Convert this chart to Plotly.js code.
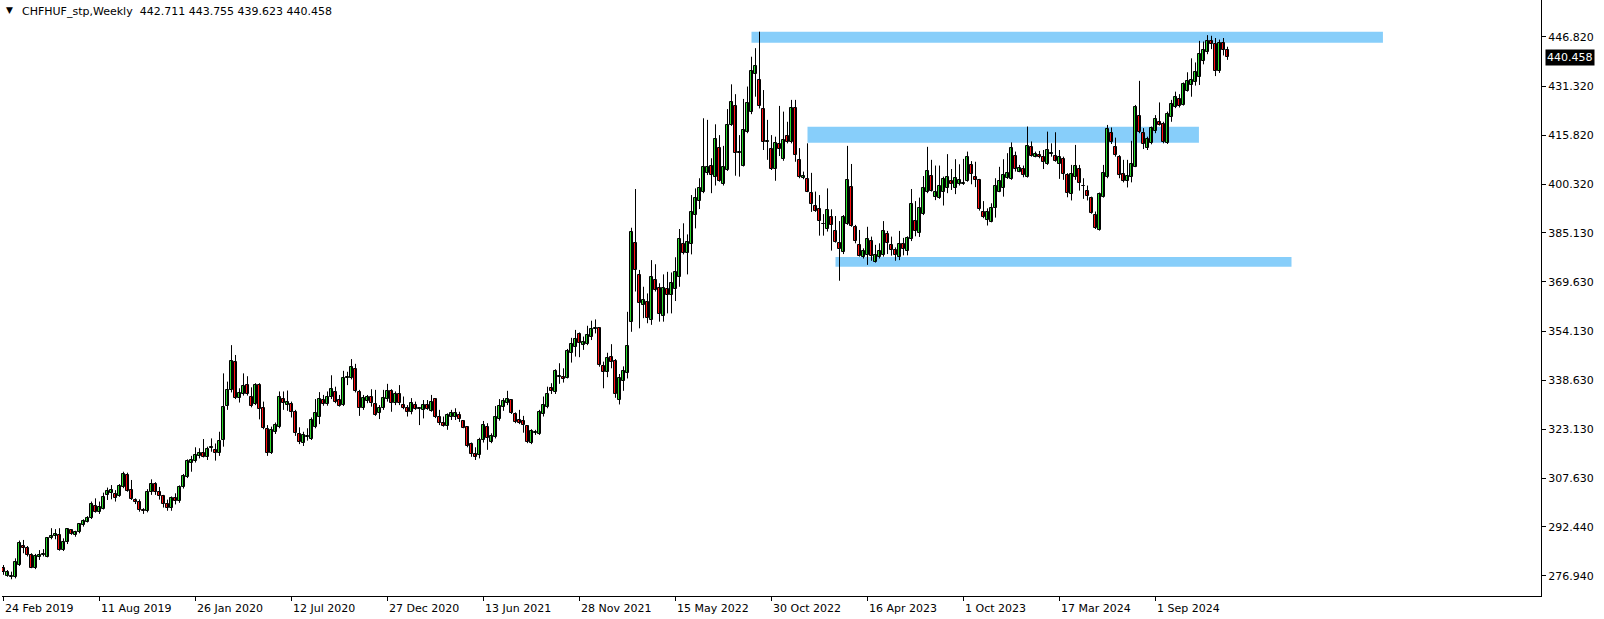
<!DOCTYPE html>
<html>
<head>
<meta charset="utf-8">
<script src="https://cdn.plot.ly/plotly-3.0.1.min.js"></script>
<style>html,body{margin:0;padding:0;background:#fff;}#chart{width:1604px;height:619px;}</style>
</head>
<body>
<div id="chart"></div>
<script>
// ---- DATA (weekly candles, first week starting 24 Feb 2019) ----
const symbol = "CHFHUF_stp,Weekly";
const firstWeek = "2019-02-24";

const open = [
279.3,277.0,276.5,276.5,280.5,286.4,285.9,283.6,279.6,282.8,
283.6,283.0,288.8,289.4,289.9,285.1,287.6,291.4,290.0,290.7,
293.0,294.0,295.2,299.0,297.0,298.2,302.6,303.0,302.8,302.0,
305.0,308.9,304.0,301.0,300.3,297.7,297.5,303.4,306.0,303.5,
302.0,299.5,298.5,301.5,300.5,305.0,308.0,312.5,313.2,314.9,
315.6,314.5,317.2,316.6,315.8,319.8,330.5,335.5,344.3,332.9,
334.2,337.0,333.5,331.1,337.1,329.8,323.2,315.8,322.4,323.9,
332.7,330.8,331.1,328.7,321.6,318.8,320.8,320.2,324.0,327.0,
332.4,331.0,333.3,334.9,332.3,330.8,339.2,339.2,342.1,334.8,
329.8,332.1,333.3,331.1,328.2,330.0,332.7,335.3,331.4,334.3,
330.8,330.0,328.5,330.8,329.5,329.3,330.8,329.0,332.7,327.0,
325.1,324.3,327.0,327.2,327.7,325.8,323.8,318.5,315.5,315.0,
319.8,323.8,319.3,320.7,326.3,330.1,331.6,332.4,328.0,326.1,
325.9,324.2,318.8,322.0,321.7,328.0,330.1,336.1,334.8,339.7,
339.6,339.4,347.1,349.0,353.2,349.9,350.0,352.4,354.8,355.0,
343.1,341.1,345.9,344.7,332.5,338.5,341.0,356.9,381.8,371.8,
362.3,363.2,357.5,370.1,367.6,359.0,367.3,365.5,367.3,371.1,
381.6,378.7,381.6,390.7,395.1,397.9,404.0,406.3,402.6,411.7,
400.4,404.9,419.1,425.1,410.3,406.3,416.8,423.1,435.1,433.3,
424.1,413.6,411.4,405.3,413.1,408.5,415.6,413.6,424.3,408.1,
402.3,402.0,397.6,393.6,392.6,388.0,386.2,390.2,385.7,382.0,
379.0,388.0,399.5,386.9,381.3,377.6,378.1,382.5,376.0,377.4,
378.1,384.7,381.3,379.7,377.6,381.5,379.5,383.0,388.8,384.9,
390.9,397.9,403.0,396.3,396.0,397.9,399.1,401.5,399.1,400.4,
400.6,401.5,406.5,402.6,401.7,391.6,389.2,388.6,393.0,398.1,
399.3,402.3,402.1,409.3,404.4,405.2,402.7,412.1,409.1,409.6,
408.9,406.7,410.1,409.3,406.8,408.3,403.4,397.3,402.6,405.2,
399.8,398.3,396.0,390.8,386.0,396.5,402.6,416.7,412.1,409.1,
403.7,401.5,402.8,406.0,422.0,416.5,411.8,413.3,417.2,420.0,
419.3,413.3,421.5,424.7,427.3,425.4,429.9,431.7,432.5,434.1,
439.4,442.2,445.6,444.5,436.0,445.0,442.711];

const high = [
280.4,278.8,278.3,282.5,288.1,288.3,286.4,284.1,283.9,285.1,
285.4,289.1,292.0,291.7,292.0,288.8,292.0,291.7,291.2,293.5,
294.8,295.8,300.4,301.4,300.4,303.2,304.8,305.6,304.0,305.9,
309.8,309.5,307.2,301.4,301.1,298.3,304.3,307.4,306.5,305.0,
302.5,301.0,302.0,303.0,305.5,309.1,313.7,314.8,317.5,317.2,
320.1,317.7,320.3,318.7,322.4,340.8,338.2,349.7,346.6,336.1,
340.8,339.9,336.4,337.7,337.7,331.9,324.5,324.0,325.3,335.1,
335.1,335.4,331.9,329.3,323.8,322.4,323.5,326.9,332.7,334.9,
334.0,335.1,340.2,336.6,334.0,341.6,341.3,345.3,343.8,335.6,
334.0,334.0,335.8,335.6,330.8,335.6,337.5,335.8,335.1,337.1,
333.5,330.8,333.0,331.9,330.1,332.4,332.4,334.0,333.0,329.3,
327.2,328.2,329.3,329.8,328.7,326.1,324.2,319.0,317.5,320.5,
325.8,325.1,321.9,330.5,332.7,333.0,335.3,332.7,328.5,329.3,
327.4,324.5,323.2,323.0,329.3,333.5,336.6,337.7,342.1,344.0,
342.4,348.5,352.0,354.5,353.7,352.4,355.8,357.4,357.8,355.2,
344.5,347.3,350.0,345.3,340.6,343.0,360.2,386.7,398.9,373.4,
368.1,366.0,376.5,375.2,369.2,372.0,372.8,372.6,377.4,386.3,
388.1,384.6,397.0,399.1,402.3,421.2,420.7,408.6,419.3,415.9,
412.5,424.1,431.9,428.8,415.9,427.3,431.2,440.6,443.3,448.5,
430.1,420.7,415.9,415.4,425.1,423.3,420.1,427.0,427.0,411.8,
404.4,413.3,404.0,398.1,397.0,391.0,399.1,392.5,390.4,388.8,
390.7,412.5,406.8,387.6,386.0,380.2,387.0,383.9,381.3,381.8,
388.8,385.7,383.9,380.5,385.7,383.5,384.0,398.9,395.1,396.2,
403.0,412.2,408.1,406.3,406.3,402.8,409.9,405.2,408.3,406.7,
408.4,410.7,407.7,407.5,402.1,395.1,392.8,394.4,402.3,405.9,
408.3,410.2,413.6,410.7,406.5,406.3,418.6,413.9,410.7,410.9,
411.2,417.0,413.3,416.8,411.2,409.1,403.9,406.5,412.8,406.5,
402.3,400.0,396.5,391.8,397.8,406.5,419.1,418.3,415.1,409.6,
408.1,408.1,414.1,425.4,433.0,418.1,415.4,418.6,422.2,426.2,
420.1,423.3,427.0,429.6,428.8,432.5,435.7,440.1,438.8,445.6,
445.4,447.4,447.2,446.5,446.0,446.5,443.755];

const low = [
277.3,276.7,275.9,276.2,280.1,284.1,283.1,279.4,279.1,282.0,
283.1,282.8,288.5,288.5,284.9,284.8,287.0,289.9,289.3,290.4,
292.5,293.8,294.9,296.9,296.5,297.9,300.9,301.1,300.4,301.9,
304.6,303.5,300.9,299.6,297.2,296.5,297.0,302.5,302.5,301.0,
298.5,297.5,297.5,299.5,300.0,304.5,307.8,309.8,312.7,314.0,
314.3,313.5,316.1,313.3,314.8,317.7,329.3,334.8,332.7,331.6,
333.8,333.8,330.1,330.8,326.3,323.2,314.8,315.4,321.7,323.5,
329.3,329.0,326.9,321.1,318.5,317.9,319.6,319.8,323.5,324.8,
330.6,330.6,332.7,331.4,330.3,330.5,337.1,338.9,334.8,327.4,
329.3,331.4,330.3,327.4,326.4,329.3,331.9,328.7,330.8,330.8,
329.5,327.2,327.9,329.3,324.5,326.6,329.3,328.7,326.7,324.5,
324.0,323.0,326.1,326.1,325.5,323.5,317.5,314.5,313.5,314.0,
319.0,316.7,318.8,320.3,325.9,329.0,330.8,328.0,325.1,324.8,
322.1,318.8,318.5,321.4,321.4,327.2,329.8,334.3,334.3,337.5,
337.9,339.2,344.2,346.1,345.9,348.2,349.7,351.3,353.4,342.9,
336.1,339.6,342.4,333.1,331.0,335.3,339.2,353.9,366.6,355.0,
358.2,356.6,356.1,366.6,357.1,357.1,359.7,359.7,363.6,368.1,
378.3,372.0,378.3,386.5,392.6,397.6,403.3,397.6,400.0,401.2,
400.0,404.6,418.8,403.1,402.8,406.0,416.5,422.5,428.0,424.3,
411.2,408.1,404.9,401.5,409.3,407.8,413.3,413.3,407.5,402.3,
402.0,397.9,391.7,391.7,384.2,384.2,385.5,379.5,382.0,370.0,
378.4,387.6,387.0,381.8,377.6,377.0,375.0,376.3,375.7,377.0,
377.6,378.4,377.9,376.3,376.5,378.0,378.0,382.5,384.0,383.8,
390.7,397.6,398.1,395.4,395.8,393.7,397.6,398.6,397.3,400.0,
400.2,401.2,400.4,399.5,392.1,389.7,387.4,388.4,389.9,397.9,
396.5,402.1,401.8,404.4,404.2,402.6,402.5,409.1,408.9,408.6,
405.2,406.5,409.1,407.5,402.1,401.8,396.3,395.3,401.8,398.4,
395.8,395.3,391.1,386.3,385.8,396.2,402.3,413.1,409.1,402.3,
401.0,399.4,401.0,405.8,416.5,411.5,411.2,413.0,416.5,418.9,
413.3,413.1,420.1,424.4,424.6,425.2,429.6,428.0,431.5,431.7,
438.2,441.4,443.0,434.5,435.5,441.0,439.623];

const close = [
278.1,278.1,276.9,281.5,287.3,285.9,283.5,279.6,283.3,283.6,
283.9,288.8,289.6,290.1,285.1,287.7,291.7,290.2,290.8,293.2,
294.2,295.2,299.6,297.2,298.6,301.7,303.7,304.0,301.5,305.3,
309.1,303.8,301.3,300.2,297.8,297.5,303.4,306.0,303.5,302.0,
299.5,298.5,301.5,300.5,305.0,308.3,313.2,313.5,315.1,315.6,
314.5,316.9,317.7,315.6,319.5,330.1,335.6,344.7,332.9,334.5,
336.8,334.2,330.5,337.1,329.5,323.7,315.8,323.0,324.5,333.3,
331.6,331.8,328.7,321.9,319.1,321.3,321.0,326.0,328.2,332.7,
331.2,333.3,335.8,331.7,330.5,339.2,339.6,342.7,335.1,329.8,
333.0,333.3,331.4,327.7,329.8,333.0,335.3,331.6,334.3,331.4,
329.8,328.7,331.4,329.5,329.8,330.8,329.5,331.7,327.0,325.1,
324.3,327.7,328.2,328.4,326.4,323.7,318.0,315.5,314.5,319.8,
324.5,320.3,321.2,327.0,330.5,332.1,332.7,328.4,325.5,325.3,
324.5,319.1,322.7,322.3,328.5,330.8,334.3,335.4,341.6,339.9,
339.0,347.8,350.0,351.5,350.3,350.6,352.9,354.7,355.1,343.3,
341.1,345.5,344.3,334.2,339.2,341.6,349.4,385.5,373.4,363.1,
363.8,358.2,371.3,367.1,359.4,367.6,365.5,369.2,372.6,383.1,
378.7,382.1,391.6,396.0,399.1,405.9,405.7,403.3,414.6,401.5,
405.7,419.1,426.4,410.4,410.6,417.4,425.9,436.2,437.7,425.2,
413.6,414.0,405.3,413.3,411.5,414.4,413.6,424.3,409.6,402.8,
403.0,398.1,394.1,392.1,388.9,387.8,392.3,387.5,382.3,380.0,
390.1,401.8,387.3,382.5,377.9,379.4,383.1,377.9,378.1,379.4,
385.7,381.8,379.7,378.1,381.5,380.0,383.5,394.1,385.7,392.8,
399.1,404.6,398.4,397.9,399.7,402.0,402.6,400.4,402.3,401.7,
400.8,408.9,403.5,401.6,392.6,390.2,391.6,392.8,399.7,401.4,
403.3,403.9,411.9,405.2,405.4,403.3,412.5,409.4,409.9,408.9,
407.5,411.2,410.3,407.8,408.9,403.7,397.8,403.7,406.2,400.7,
400.0,396.8,391.3,386.5,397.4,403.9,417.7,413.6,409.6,403.4,
401.3,403.0,406.7,424.9,416.8,413.0,414.7,418.1,420.9,419.1,
413.6,422.5,425.8,427.8,425.2,432.0,433.1,433.3,435.7,441.4,
442.7,445.6,444.5,436.0,445.0,442.7,440.458];

// date-axis tick labels
const tickDates  = ["2019-02-24","2019-08-11","2020-01-26","2020-07-12","2020-12-27","2021-06-13","2021-11-28","2022-05-15","2022-10-30","2023-04-16","2023-10-01","2024-03-17","2024-09-01"];
const tickLabels = ["24 Feb 2019","11 Aug 2019","26 Jan 2020","12 Jul 2020","27 Dec 2020","13 Jun 2021","28 Nov 2021","15 May 2022","30 Oct 2022","16 Apr 2023","1 Oct 2023","17 Mar 2024","1 Sep 2024"];
// price-axis labels
const priceTicks = [446.820,431.320,415.820,400.320,385.130,369.630,354.130,338.630,323.130,307.630,292.440,276.940];

// support / resistance zones (start week, end week, low, high)
const zoneStart = ["2022-09-25","2023-01-01","2023-02-19"];
const zoneEnd   = ["2025-10-04","2024-11-16","2025-04-27"];
const zoneLow   = [445.0, 413.5, 374.4];
const zoneHigh  = [448.5, 418.5, 377.5];

// ---- BUILD ----
const DAY = 86400000, WEEK = 7 * DAY;
const t0 = Date.parse(firstWeek + "T00:00:00Z");
const dates = close.map((_, i) => new Date(t0 + i * WEEK).toISOString().slice(0, 10));
const fmt = ms => new Date(ms).toISOString().slice(0, 23).replace("T", " ");
// 4 px per week; candle centres on half pixels so 1px wicks are crisp
const xStartMs = t0 - 0.375 * WEEK;
const xStart = fmt(xStartMs);
const xEnd = fmt(xStartMs + 384.75 * WEEK);

const GREEN = "#2bdc2b", RED = "#ff1010";
const FONT = "DejaVu Sans";

// wicks: one vertical segment per candle
const wx = [], wy = [];
dates.forEach((d, i) => { wx.push(d, d, null); wy.push(low[i], high[i], null); });
const wicks = {
  type: "scatter", mode: "lines", x: wx, y: wy,
  line: {color: "#000000", width: 1}, hoverinfo: "skip", showlegend: false
};

// bodies: bars from min(open, close) to max(open, close)
const bodies = {
  type: "bar", x: dates,
  base: close.map((c, i) => Math.min(open[i], c)),
  y: close.map((c, i) => Math.max(Math.abs(c - open[i]), 0.05)),
  width: 0.75 * WEEK,
  marker: {
    color: close.map((c, i) => c >= open[i] ? GREEN : RED),
    line: {color: "#000000", width: 1}
  },
  hoverinfo: "skip", showlegend: false
};

const shapes = zoneStart.map((s, k) => ({
  type: "rect", xref: "x", yref: "y", layer: "below",
  x0: s, x1: zoneEnd[k], y0: zoneLow[k], y1: zoneHigh[k],
  fillcolor: "#87cefa", line: {width: 0}
}));

const last = close.length - 1;
const annotations = tickDates.map((d, k) => ({
  x: d, xref: "x", y: 0, yref: "paper", yanchor: "top", xanchor: "left",
  yshift: -4, xshift: -1,
  text: tickLabels[k], showarrow: false,
  font: {family: FONT, size: 11, color: "#000"}
}));
annotations.push({
  x: 0, xref: "paper", y: 1, yref: "paper", xanchor: "left", yanchor: "top",
  xshift: 2, yshift: -3, text: "▼", showarrow: false,
  font: {family: FONT, size: 9, color: "#000"}
});
annotations.push({
  x: 0, xref: "paper", y: 1, yref: "paper", xanchor: "left", yanchor: "top",
  xshift: 18, yshift: -3,
  text: symbol + "  " + [open[last], high[last], low[last], close[last]].map(v => v.toFixed(3)).join(" "),
  showarrow: false, font: {family: FONT, size: 11, color: "#000"}
});
annotations.push({
  x: 1, xref: "paper", y: close[last], yref: "y", xanchor: "left", yanchor: "middle",
  xshift: 4, text: close[last].toFixed(3), showarrow: false,
  bgcolor: "#000000", borderpad: 1,
  font: {family: FONT, size: 11, color: "#ffffff"}
});

const layout = {
  width: 1604, height: 619,
  margin: {l: 2, r: 63, t: 0, b: 23},
  paper_bgcolor: "#ffffff", plot_bgcolor: "#ffffff",
  showlegend: false,
  bargap: 0, bargroupgap: 0, barmode: "overlay",
  xaxis: {
    type: "date", range: [xStart, xEnd],
    showgrid: false, zeroline: false,
    showline: true, linecolor: "#000", linewidth: 1,
    ticks: "outside", ticklen: 4, tickcolor: "#000",
    tickvals: tickDates, showticklabels: false,
    fixedrange: true
  },
  yaxis: {
    side: "right", range: [270.63, 458.48],
    showgrid: false, zeroline: false,
    showline: true, linecolor: "#000", linewidth: 1,
    ticks: "outside", ticklen: 4, tickcolor: "#000",
    tickvals: priceTicks, ticktext: priceTicks.map(v => v.toFixed(3)),
    tickfont: {family: FONT, size: 11, color: "#000"},
    fixedrange: true
  },
  shapes: shapes,
  annotations: annotations,
  hovermode: false
};

Plotly.newPlot("chart", [wicks, bodies], layout, {displayModeBar: false});
</script>
</body>
</html>
